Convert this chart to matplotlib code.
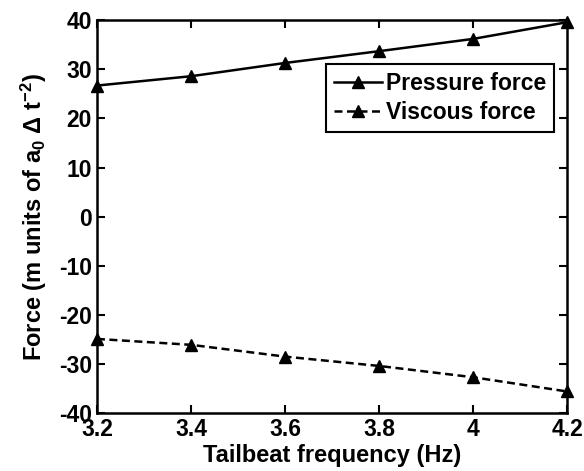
import matplotlib
matplotlib.use("Agg")
import matplotlib.pyplot as plt

plt.rcParams['font.family'] = ['Liberation Sans', 'DejaVu Sans']
plt.rcParams['font.weight'] = 'bold'
plt.rcParams['axes.unicode_minus'] = False
plt.rcParams['mathtext.fontset'] = 'custom'
plt.rcParams['mathtext.rm'] = 'Liberation Sans:bold'
plt.rcParams['mathtext.it'] = 'Liberation Sans:bold'
plt.rcParams['mathtext.bf'] = 'Liberation Sans:bold'

freq = [3.2, 3.4, 3.6, 3.8, 4.0, 4.2]
pressure = [26.7, 28.6, 31.3, 33.7, 36.2, 39.6]
viscous = [-24.9, -26.1, -28.5, -30.4, -32.7, -35.6]
xticks = [3.2, 3.4, 3.6, 3.8, 4.0, 4.2]
xticklabels = ['3.2', '3.4', '3.6', '3.8', '4', '4.2']
yticks = [-40, -30, -20, -10, 0, 10, 20, 30, 40]

fig = plt.figure(figsize=(5.84, 4.71), dpi=100)
ax = fig.add_axes([0.166, 0.123, 0.805, 0.834])

ax.plot(freq, pressure, '-', color='black', lw=1.8, marker='^', ms=8,
        label='Pressure force', clip_on=False)
ax.plot(freq, viscous, '--', color='black', lw=1.8, marker='^', ms=8,
        label='Viscous force', clip_on=False, dashes=(3.2, 1.8))

ax.set_xlim(3.2, 4.2)
ax.set_ylim(-40, 40)
ax.set_xticks(xticks)
ax.set_xticklabels(xticklabels)
ax.set_yticks(yticks)
ax.tick_params(direction='in', top=True, right=True, length=6, width=1.5,
               labelsize=16.5, pad=3.5)
for lab in ax.get_xticklabels() + ax.get_yticklabels():
    lab.set_fontweight('bold')
for s in ax.spines.values():
    s.set_linewidth(1.8)

ax.set_xlabel('Tailbeat frequency (Hz)', fontsize=17, fontweight='bold', labelpad=2)
ax.set_ylabel('Force (m units of a$_0$ Δ t$^{-2}$)', fontsize=17,
              fontweight='bold', labelpad=7)

leg = ax.legend(loc='upper right', bbox_to_anchor=(0.972, 0.888),
                fontsize=16.5, frameon=True, fancybox=False, framealpha=1,
                edgecolor='black', handlelength=2.1, borderpad=0.32,
                labelspacing=0.3, handletextpad=0.2, borderaxespad=0)
leg.get_frame().set_linewidth(1.5)
for t in leg.get_texts():
    t.set_fontweight('bold')

fig.savefig('out.png', dpi=100)
